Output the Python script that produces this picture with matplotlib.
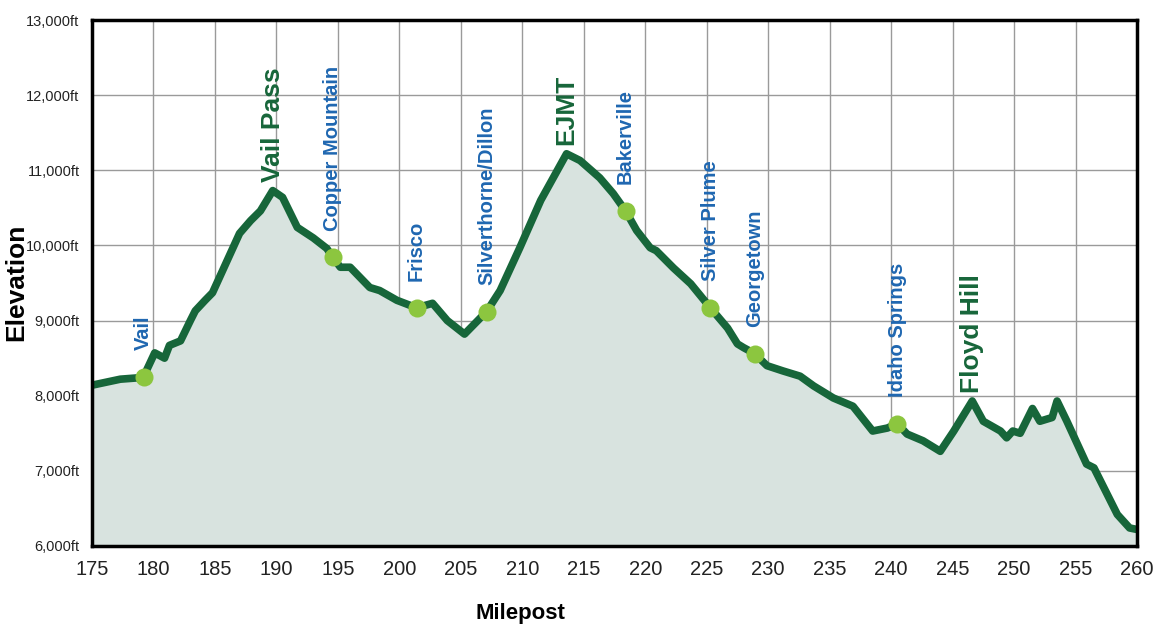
import matplotlib.pyplot as plt

# elevation profile (milepost, feet)
mileposts = [175.0, 177.3, 178.9, 179.2, 180.1, 180.9, 181.3, 182.2, 183.0, 183.4, 184.2, 184.8,
             187.0, 187.9, 188.7, 189.7, 190.5, 191.7, 193.0, 194.1, 194.6, 195.2, 196.0, 197.6,
             198.4, 199.8, 200.6, 201.4, 202.7, 203.9, 205.3, 207.1, 208.2, 209.8, 211.5, 213.6,
             214.7, 216.3, 217.4, 218.4, 219.3, 220.4, 220.9, 222.3, 223.7, 225.3, 226.7, 227.5,
             228.0, 228.9, 229.9, 231.2, 232.6, 233.7, 235.3, 236.9, 238.5, 239.7, 240.5, 241.3,
             242.6, 244.0, 245.1, 246.6, 247.5, 248.9, 249.4, 249.9, 250.5, 251.5, 252.1, 253.1,
             253.5, 254.3, 255.9, 256.5, 258.4, 259.4, 260.0]
elevation = [8140, 8220, 8240, 8255, 8570, 8500, 8670, 8730, 9000, 9130, 9270, 9370,
             10160, 10330, 10460, 10730, 10640, 10240, 10100, 9960, 9840, 9710, 9710, 9440,
             9400, 9270, 9220, 9170, 9230, 9000, 8820, 9120, 9400, 9970, 10600, 11220,
             11130, 10900, 10690, 10460, 10200, 9970, 9930, 9700, 9490, 9170, 8900, 8690,
             8640, 8560, 8400, 8330, 8260, 8130, 7970, 7860, 7530, 7570, 7630, 7490,
             7400, 7260, 7530, 7930, 7660, 7530, 7440, 7530, 7500, 7830, 7660, 7710,
             7930, 7660, 7090, 7040, 6420, 6240, 6220]

# towns (dot + blue label) and summits (green label, no dot)
towns = ["Vail", "Copper Mountain", "Frisco", "Silverthorne/Dillon", "Bakerville",
         "Silver Plume", "Georgetown", "Idaho Springs"]
town_mp = [179.2, 194.6, 201.4, 207.1, 218.4, 225.3, 228.9, 240.5]
town_elev = [8255, 9840, 9170, 9120, 10460, 9170, 8560, 7630]
summits = ["Vail Pass", "EJMT", "Floyd Hill"]
summit_mp = [189.7, 213.6, 246.6]
summit_elev = [10730, 11220, 7930]

xticks = list(range(175, 261, 5))
yticks = list(range(6000, 13001, 1000))

sans = ['Liberation Sans', 'DejaVu Sans']
line_green = '#17663a'
dot_green = '#8cc63f'
blue = '#1f67b1'

fig = plt.figure(figsize=(11.53, 6.26), dpi=100)
ax = fig.add_axes([0.0798, 0.1278, 0.9063, 0.8402])

ax.fill_between(mileposts, elevation, 6000, color='#d8e3df', zorder=1)
ax.plot(mileposts, elevation, color=line_green, lw=5.5, solid_joinstyle='round',
        solid_capstyle='round', zorder=3)
ax.plot(town_mp, town_elev, 'o', ms=13, color=dot_green, mec='none', zorder=4)

for name, x, y in zip(towns, town_mp, town_elev):
    ax.annotate(name, (x, y), xytext=(0, 19), textcoords='offset points',
                rotation=90, ha='center', va='bottom', color=blue,
                fontsize=14.5, fontweight='bold', family=sans)
for name, x, y in zip(summits, summit_mp, summit_elev):
    ax.annotate(name, (x, y), xytext=(0, 6), textcoords='offset points',
                rotation=90, ha='center', va='bottom', color=line_green,
                fontsize=19, fontweight='bold', family=sans)

ax.set_xlim(175, 260)
ax.set_ylim(6000, 13000)
ax.set_xticks(xticks)
ax.set_yticks(yticks)
ax.set_xticklabels([str(t) for t in xticks], family=sans, fontsize=14.5, color='#222222')
ax.set_yticklabels([f"{t:,}ft" for t in yticks], family=sans, fontsize=10.5, color='#222222')
ax.tick_params(axis='y', length=0, pad=9)
ax.tick_params(axis='x', length=0, pad=10)
ax.grid(True, color='#9a9a9a', lw=1, zorder=0)
ax.set_axisbelow(True)
for s in ax.spines.values():
    s.set_linewidth(2.5)
    s.set_color('black')
    s.set_zorder(5)

fig.text(16 / 1153, 1 - 282 / 626, 'Elevation', rotation=90, ha='center', va='center',
         fontsize=19, fontweight='heavy', family=sans)
fig.text(520 / 1153, 1 - 613 / 626, 'Milepost', ha='center', va='center',
         fontsize=16, fontweight='bold', family=sans)

fig.savefig('out.png', dpi=100)
